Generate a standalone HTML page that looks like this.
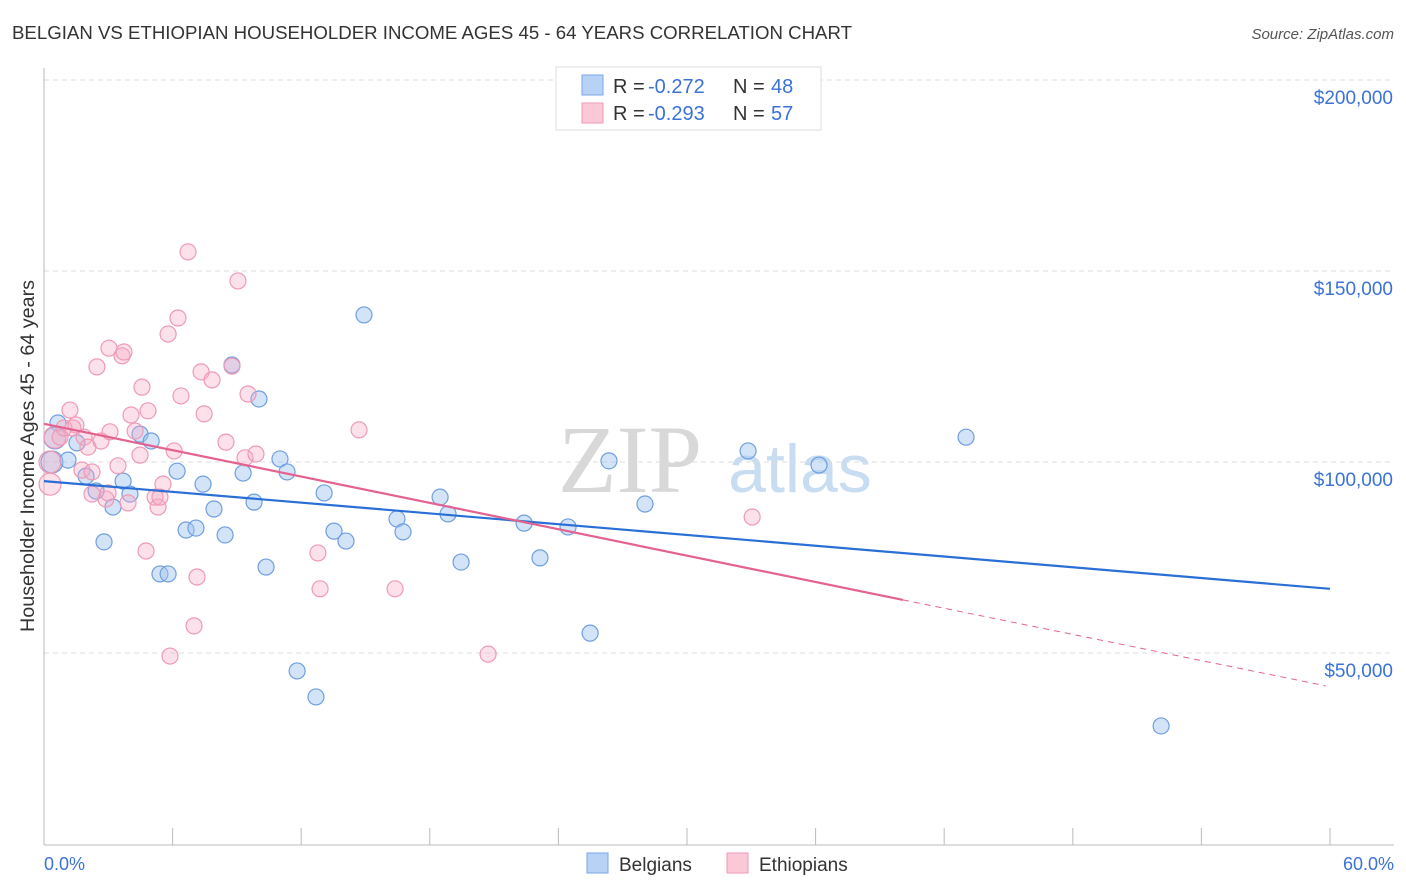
<!DOCTYPE html>
<html><head><meta charset="utf-8"><style>
body{margin:0;background:#fff;font-family:"Liberation Sans",sans-serif;}
svg{display:block}
</style></head><body>
<svg id="c" width="1406" height="892" xmlns="http://www.w3.org/2000/svg">
<text x="12" y="39" font-size="18" fill="#333" textLength="840" lengthAdjust="spacingAndGlyphs">BELGIAN VS ETHIOPIAN HOUSEHOLDER INCOME AGES 45 - 64 YEARS CORRELATION CHART</text>
<text x="1394" y="39" font-size="15" fill="#555" font-style="italic" text-anchor="end">Source: ZipAtlas.com</text>
<text x="630" y="492" font-size="96" fill="#d8d8d8" font-family="Liberation Serif,serif" text-anchor="middle">ZIP</text>
<text x="800" y="492" font-size="68" fill="#c8dcf2" text-anchor="middle">atlas</text>
<g id="grid"></g><g id="axes"></g><g id="marks"></g><g id="trend"></g>
<text x="34" y="456" font-size="19" fill="#333" text-anchor="middle" textLength="352" lengthAdjust="spacingAndGlyphs" transform="rotate(-90 34 456)">Householder Income Ages 45 - 64 years</text>
<text x="44" y="870" font-size="18" fill="#3a72d8">0.0%</text>
<text x="1394" y="870" font-size="18" fill="#3a72d8" text-anchor="end">60.0%</text>
<g>
<rect x="556" y="67" width="265" height="63" fill="#fff" stroke="#ddd"/>
<rect x="582" y="75" width="21" height="20" fill="#b8d2f5" stroke="#7aa6e6"/>
<rect x="582" y="103" width="21" height="20" fill="#fbc8d8" stroke="#ee9ab6"/>
<text x="613" y="93" font-size="20" fill="#333">R = <tspan x="648" fill="#3a72d8">-0.272</tspan><tspan x="733">N = </tspan><tspan x="771" fill="#3a72d8">48</tspan></text>
<text x="613" y="120" font-size="20" fill="#333">R = <tspan x="648" fill="#3a72d8">-0.293</tspan><tspan x="733">N = </tspan><tspan x="771" fill="#3a72d8">57</tspan></text>
</g>
<g>
<rect x="587" y="853" width="21" height="20" fill="#b8d2f5" stroke="#7aa6e6"/>
<text x="619" y="871" font-size="19" fill="#333">Belgians</text></g>
<g>
<rect x="727" y="853" width="21" height="20" fill="#fbc8d8" stroke="#ee9ab6"/>
<text x="759" y="871" font-size="19" fill="#333">Ethiopians</text></g>
</svg>
<script>
const yTicks=[50000,100000,150000,200000];
const yTickLabels=["$50,000","$100,000","$150,000","$200,000"];
const xTicks=[0,6,12,18,24,30,36,42,48,54,60];
const belX=[0.65,0.51,0.37,1.12,1.54,1.96,2.43,2.8,3.22,3.69,4.01,4.48,5.0,5.41,5.79,6.21,6.63,7.09,7.42,7.93,8.45,8.77,9.29,9.8,10.03,10.36,11.01,11.34,11.81,12.69,13.07,13.53,14.09,14.93,16.47,16.75,18.48,18.85,19.46,22.4,23.14,24.45,25.48,26.36,28.04,32.85,36.16,43.02,52.12];
const belY=[110200,106300,100000,100500,105000,96300,92400,79100,88200,95000,91600,107300,105500,70700,70700,97600,82200,82700,94200,87700,80900,125400,97100,89500,116500,72500,100800,97400,45300,38500,91900,81900,79300,138500,85100,81700,90800,86400,73800,84000,74900,83000,55200,100300,89000,102900,99200,106500,30900];
const ethX=[0.28,0.28,0.51,0.75,0.93,1.21,1.35,1.49,1.77,1.87,2.05,2.24,2.47,2.66,2.89,2.99,3.03,3.45,3.64,3.73,3.92,4.06,4.25,4.48,4.57,4.76,4.85,5.18,5.32,5.55,5.79,5.88,6.07,6.25,6.39,6.72,7.0,7.14,7.33,7.47,7.84,8.49,9.05,9.38,9.52,9.89,12.78,12.88,14.7,16.38,20.72,33.04,2.24,3.08,5.41,8.77];
const ethY=[100000,94200,106500,106500,108900,113600,108900,109700,97900,106500,103900,97400,124900,105500,90300,91900,129800,99000,127800,128800,89300,112300,108100,101800,119600,76700,113400,90800,88200,94200,133500,49200,102900,137700,117300,155000,57100,69900,123600,112600,121500,105200,147400,101100,117800,102100,76200,66800,108400,66800,49700,85600,91600,107900,90800,125100];
const belTrend=[[0,95000],[60,66800]];
const ethTrendSolid=[[0,110000],[40.08,63900]];
const ethTrendDash=[[40.08,63900],[59.8,41400]];
const NS="http://www.w3.org/2000/svg";
const xs=v=>44+v/60*1286;
const ys=v=>653-(v-50000)*191/50000;
function mk(t,a,p){const e=document.createElementNS(NS,t);for(const k in a)e.setAttribute(k,a[k]);document.getElementById(p).appendChild(e);return e;}
yTicks.forEach((t,i)=>{
 const l=mk('line',{x1:44,x2:1394,y1:ys(t),y2:ys(t),stroke:'#ddd','stroke-dasharray':'5,4'},'grid');
 
 
 const tx=mk('text',{x:1393,y:ys(t)+24,'font-size':19,fill:'#3a72d8','text-anchor':'end'},'axes');
 tx.textContent=yTickLabels[i];
 
 
});
const ax=mk('line',{x1:44,x2:44,y1:68,y2:845,stroke:'#bbb'},'axes');


const bx=mk('line',{x1:44,x2:1394,y1:845,y2:845,stroke:'#bbb'},'axes');


xTicks.forEach(t=>{
 const l=mk('line',{x1:xs(t),x2:xs(t),y1:828,y2:845,stroke:'#bbb'},'axes');
 
 
});
function dots(X,Y,fill,stroke,name){
 X.forEach((x,i)=>{
  const r=(x<0.6)?11:8;
  const c=mk('circle',{cx:xs(x),cy:ys(Y[i]),r:r,fill:fill,stroke:stroke,'stroke-width':1.2},'marks');
  
  
 });
}
dots(belX,belY,'rgba(160,195,240,0.45)','#6f9fe0','belgian-point');
dots(ethX,ethY,'rgba(245,170,195,0.35)','#ee9ab6','ethiopian-point');
function ln(p,col,w,dash,name){
 const a={x1:xs(p[0][0]),y1:ys(p[0][1]),x2:xs(p[1][0]),y2:ys(p[1][1]),stroke:col,'stroke-width':w};
 if(dash)a['stroke-dasharray']=dash;
 const l=mk('line',a,'trend');
 
 
}
ln(belTrend,'#2a6fd6',2.2,null,'belgian-trend-line');
ln(ethTrendSolid,'#e4628f',2.2,null,'ethiopian-trend-line');
ln(ethTrendDash,'#e4628f',1,'6,5','ethiopian-trend-extension');
</script>
</body></html>
